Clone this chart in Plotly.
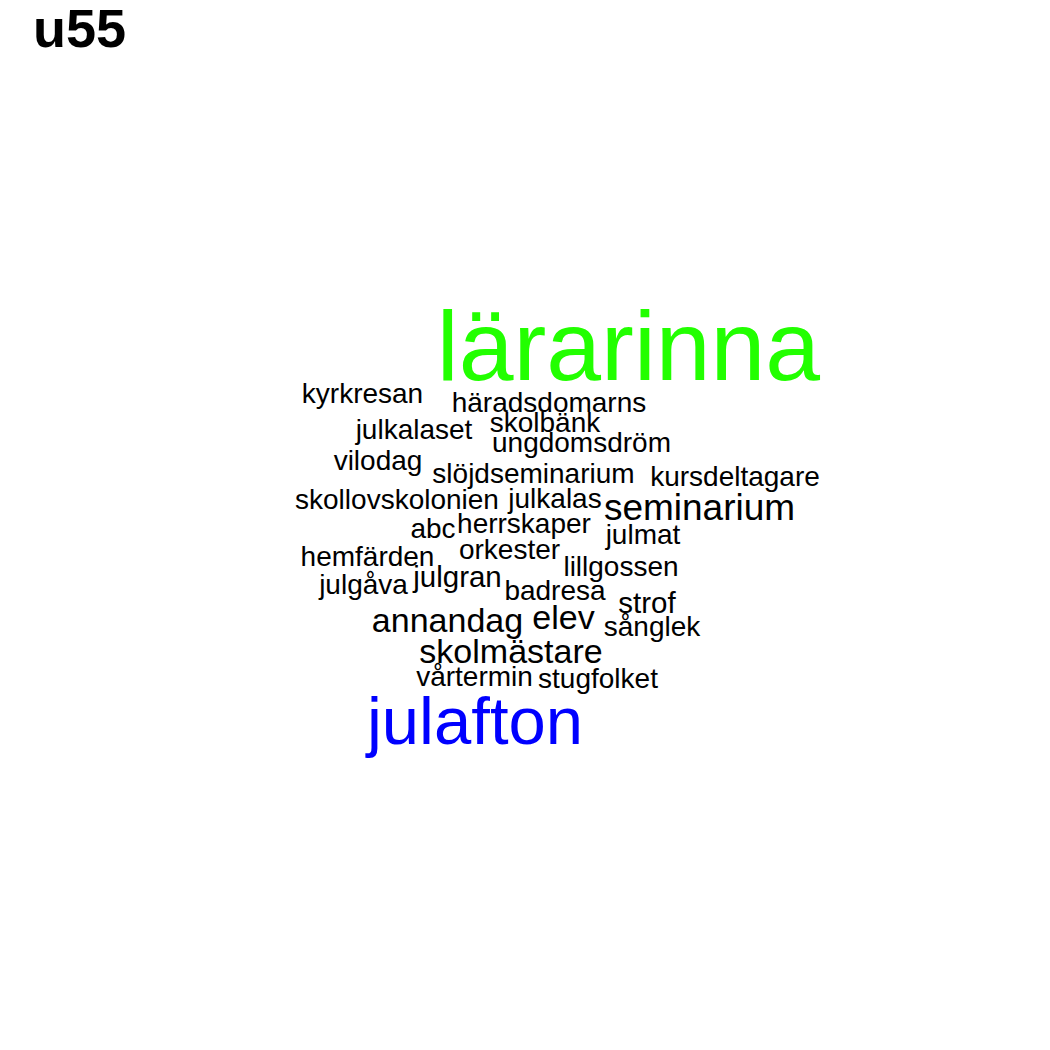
import plotly.graph_objects as go

# Mots et fréquences (estimées d'après la taille des mots)
mots = ['lärarinna', 'julafton', 'seminarium', 'annandag', 'elev', 'skolmästare',
        'julgran', 'strof', 'kyrkresan', 'häradsdomarns', 'skolbänk', 'julkalaset',
        'ungdomsdröm', 'vilodag', 'slöjdseminarium', 'kursdeltagare',
        'skollovskolonien', 'julkalas', 'abc', 'herrskaper', 'julmat', 'hemfärden',
        'orkester', 'lillgossen', 'julgåva', 'badresa', 'sånglek', 'vårtermin',
        'stugfolket']
frequences = [48, 27, 7, 5, 5, 5,
              2, 2, 1, 1, 1, 1,
              1, 1, 1, 1,
              1, 1, 1, 1, 1, 1,
              1, 1, 1, 1, 1, 1,
              1]

# Placement du nuage (centre horizontal et ligne de base, en pixels)
place_x = [628.5, 475, 699.5, 447.5, 563.5, 511,
           457.5, 647, 362.5, 549, 545, 414,
           581.5, 378, 533.5, 735,
           397, 555, 433, 524, 643, 367.5,
           509.5, 621, 363.5, 555, 652, 474.5,
           598]
place_base = [386, 747, 520, 631, 628, 662,
              586, 612, 402, 411, 431, 438,
              451, 469, 482, 485,
              508, 507, 537, 532, 543, 565,
              558, 575, 593, 599, 635, 685,
              687]

titre = 'u55'

# Décalage de la page (marge du body html)
dx, dy = -8, -4

# Taille et couleur selon la fréquence
tailles = [26.5 + 1.5 * f for f in frequences]
def couleur(f):
    if f >= 40:
        return '#22ff00'
    if f >= 20:
        return '#0000ff'
    return '#000000'
couleurs = [couleur(f) for f in frequences]
pos_x = [x + dx for x in place_x]
pos_y = [b - 0.35 * t + dy for b, t in zip(place_base, tailles)]

fig = go.Figure()

fig.add_trace(go.Scatter(
    x=pos_x,
    y=pos_y,
    mode='text',
    text=mots,
    textposition='middle center',
    textfont=dict(family='Liberation Sans, Arial, sans-serif', size=tailles, color=couleurs),
    hoverinfo='text'
))

# Titre en haut à gauche
fig.add_annotation(
    x=23, y=20,
    xref='x', yref='y',
    text='<b>' + titre + '</b>',
    showarrow=False,
    xanchor='left', yanchor='middle',
    font=dict(family='Liberation Sans, Arial, sans-serif', size=54, color='black')
)

fig.update_layout(
    width=1050,
    height=1050,
    margin=dict(l=0, r=0, t=0, b=0),
    paper_bgcolor='white',
    plot_bgcolor='white',
    showlegend=False,
    xaxis=dict(range=[0, 1050], visible=False, fixedrange=True),
    yaxis=dict(range=[1050, 0], visible=False, fixedrange=True)
)

fig.write_html("out.html")
